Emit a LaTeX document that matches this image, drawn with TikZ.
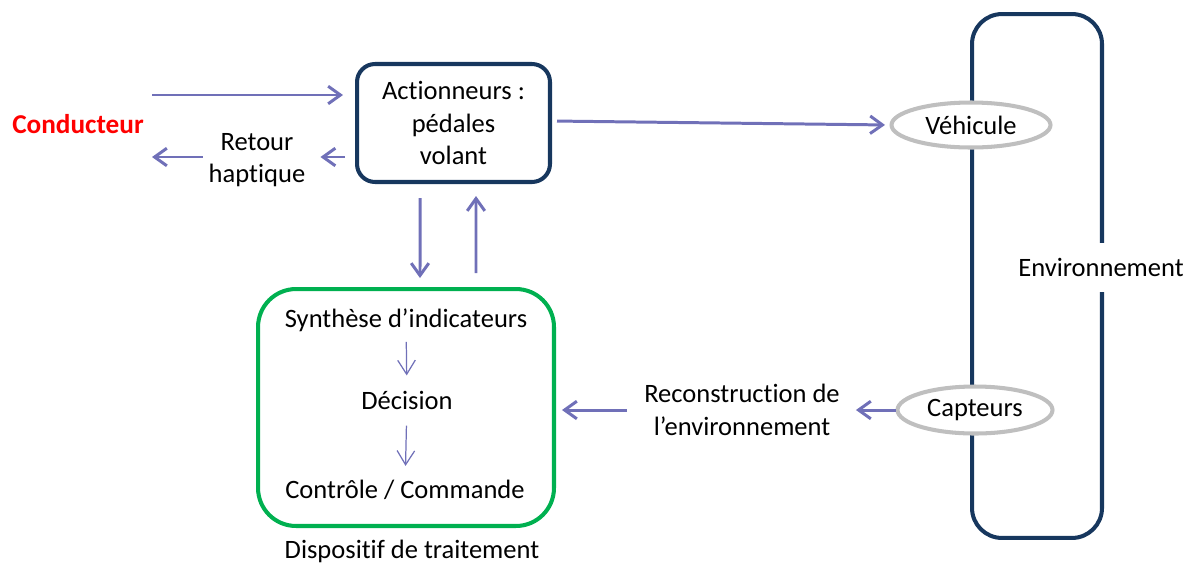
\documentclass[tikz,border=0pt]{standalone}
\usepackage{fontspec}
\setmainfont[Ligatures=NoCommon]{Carlito}
\usepackage{tikz}
\usetikzlibrary {arrows.meta,
                 shapes.geometric}
\definecolor{navy}{RGB}{23,55,94}
\definecolor{lav}{RGB}{112,112,184}
\definecolor{vert}{RGB}{0,176,80}
\definecolor{gris}{RGB}{191,191,191}
\tikzset{
        base/.style={align=center, font=\fontsize{15.1}{18.5}\selectfont},
        blk/.style={base, draw=navy, line width=2.3pt, inner sep=0pt},
        ell/.style={base, ellipse, draw=gris, fill=white, line width=2.3pt,
                    inner sep=0pt},
        flow/.style={-{Straight Barb[length=7pt,width=10pt]}, draw=lav,
                     line width=1.7pt},
        subflow/.style={-{Straight Barb[length=8pt,width=10pt]}, draw=lav,
                        line width=0.7pt},
 }

\begin{document}
\begin{tikzpicture}[x=0.02cm, y=-0.02cm]
    \useasboundingbox (0,0) rectangle (1192,572);

    \node[blk, rounded corners=0.6cm, minimum width=2.6cm, minimum height=10.48cm] (env) at (1037,276) {};
    \node[base, fill=white, inner sep=0pt, minimum height=0.98cm] (envl) at (1101,267) {Environnement};
    \node[ell, minimum width=3.18cm, minimum height=0.9cm] (veh) at (971,125) {Véhicule};
    \node[ell, minimum width=3.1cm, minimum height=0.94cm] (cap) at (975,410) {Capteurs};

    \node[blk, rounded corners=0.36cm, minimum width=3.86cm, minimum height=2.36cm] (act) at (453.5,123) {Actionneurs :\\pédales\\volant};
    \node[blk, draw=vert, rounded corners=0.76cm, minimum width=5.92cm, minimum height=4.74cm,
          label={[base, label distance=0.12cm, xshift=0.12cm]below:Dispositif de traitement}] (trt) at (406,407.5) {};

    \node[base, inner sep=0pt] (syn) at (406,320) {Synthèse d’indicateurs};
    \node[base, inner sep=0pt] (dec) at (407,400) {Décision};
    \node[base, inner sep=0pt] (ctl) at (405,490) {Contrôle / Commande};

    \node[base] (ret) at (257,160) {Retour\\haptique};
    \node[base] (rec) at (742,410) {Reconstruction de\\l’environnement};
    \node[base, font=\fontsize{15.5}{18.5}\selectfont\bfseries, text=red] (cond) at (78,124) {Conducteur};

    \coordinate (cin) at (152,95);
    \coordinate (cout) at (152,157);

    \draw[flow, shorten >=0.24cm] (cin) -- (cin -| act.west);
    \draw[flow, shorten <=0.2cm, shorten >=0.18cm] (act.west |- cout) -- (ret.east |- cout);
    \draw[flow] (ret.west |- cout) -- (cout);

    \draw[flow, shorten <=0.28cm, shorten >=0.18cm] ([xshift=-0.67cm]act.south) -- ([xshift=0.28cm]trt.north);
    \draw[flow, shorten <=0.28cm, shorten >=0.24cm] ([xshift=1.4cm]trt.north) -- ([xshift=0.45cm]act.south);

    \draw[flow, shorten <=0.1cm, shorten >=0.09cm] ([yshift=0.04cm]act.east) -- (veh.west);
    \draw[flow] (cap.west) -- ([xshift=0.2cm]rec.east);
    \draw[flow, shorten >=0.12cm] ([xshift=-0.22cm]rec.west) -- (trt.east |- rec.west);

    \draw[subflow, shorten <=0.2cm, shorten >=0.3cm] (syn) -- (dec);
    \draw[subflow, shorten <=0.32cm, shorten >=0.28cm] (dec) -- (ctl);
\end{tikzpicture}
\end{document}
